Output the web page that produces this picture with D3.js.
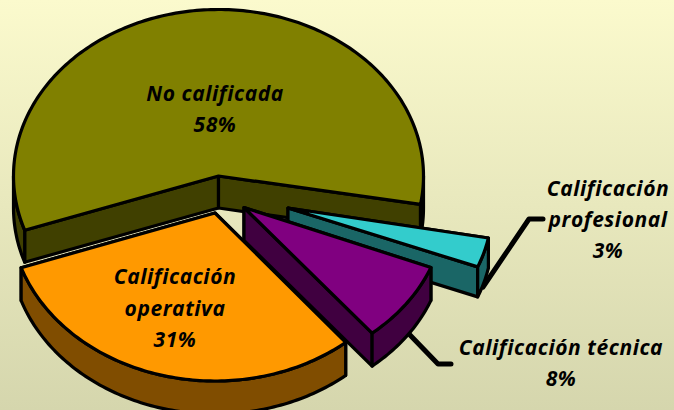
<!DOCTYPE html>
<html><head><meta charset="utf-8">
<script src="https://cdn.jsdelivr.net/npm/d3@7"></script>
<style>html,body{margin:0;padding:0;width:674px;height:410px;overflow:hidden}svg{display:block}
text{font-family:"Open Sans",sans-serif;font-weight:700;font-style:italic;font-size:21px;letter-spacing:0.55px;fill:#000;text-anchor:middle}</style>
</head><body><div id="c"></div>
<script>
const categories = ["No calificada","Calificación profesional","Calificación técnica","Calificación operativa"];
const values = [58,3,8,31];
const topColors = ["#808000","#33CCCC","#800080","#FF9900"];
const sideColors = ["#404000","#1A6666","#400040","#804D00"];
const W=674,H=410;
const svg=d3.select("#c").append("svg").attr("width",W).attr("height",H);
const g=svg.append("defs").append("linearGradient").attr("id","bg").attr("x1",0).attr("y1",0).attr("x2",0).attr("y2",1);
g.append("stop").attr("offset",0).attr("stop-color","#FBFACD");
g.append("stop").attr("offset",1).attr("stop-color","#D5D6AD");
svg.append("rect").attr("width",W).attr("height",H).attr("fill","url(#bg)");

const rad=Math.PI/180;
const pie=d3.pie().sort(null).value(d=>d).startAngle(251*rad).endAngle(611*rad);
const arcs=pie(values);
// projection layout per slice
const layout=[
 {cx:218.5,cy:176,rx:205,ry:166.5,d:32,n0:0,n1:0},
 {cx:288,cy:208,rx:204,ry:160,d:30,n0:1,n1:1},
 {cx:244,cy:207.5,rx:201,ry:163,d:33,n0:1,n1:1},
 {cx:215,cy:213,rx:205,ry:168,d:33,n0:1,n1:0}];
const stroke=a=>a.attr("stroke","#000").attr("stroke-width",3.2).attr("stroke-linejoin","round");
const line=d3.line();
function pt(l,a,dz=0){return [l.cx+l.rx*Math.sin(a), l.cy-l.ry*Math.cos(a)+dz];}
function rim(l,a0,a1,dz=0){const n=Math.max(2,Math.ceil(Math.abs(a1-a0)/(1*rad)));return d3.range(n+1).map(i=>pt(l,a0+(a1-a0)*i/n,dz));}
function poly(pts,fill){stroke(svg.append("path").attr("d",line(pts)+"Z").attr("fill",fill));}

// leader lines
const leader=(pts)=>svg.append("path").attr("d",line(pts)).attr("fill","none").attr("stroke","#000").attr("stroke-width",5).attr("stroke-linejoin","round").attr("stroke-linecap","round");
leader([[483,287],[529,219],[543,219]]);
leader([[410,335],[438,364],[451,364]]);

function slice(i){
  const l=layout[i],A=arcs[i],c=[l.cx,l.cy],cb=[l.cx,l.cy+l.d];
  const a0=A.startAngle+l.n0*rad,a1=A.endAngle+l.n1*rad;
  const p0=pt(l,a0),p1=pt(l,a1);
  // outer wall: the part of the rim that faces the viewer
  const segs=[];
  for(let k=0;k<3;k++){const s=(90+360*k)*rad,e=(270+360*k)*rad;const x=Math.max(a0,s),y=Math.min(a1,e);if(y>x)segs.push([x,y]);}
  [p0,p1].forEach(p=>poly([c,p,[p[0],p[1]+l.d],cb],sideColors[i]));
  segs.forEach(([x,y])=>poly(rim(l,x,y).concat(rim(l,y,x,l.d)),sideColors[i]));
  poly([c].concat(rim(l,a0,a1)),topColors[i]);
}
[0,1,3,2].forEach(slice);

const labels=[
 {i:0,x:215,lines:["No calificada","58%"],y:[101,132]},
 {i:1,x:608,lines:["Calificación","profesional","3%"],y:[196,227,258]},
 {i:2,x:561,lines:["Calificación técnica","8%"],y:[355,386]},
 {i:3,x:175,lines:["Calificación","operativa","31%"],y:[284,316,347]}];
labels.forEach(L=>L.lines.forEach((t,k)=>svg.append("text").attr("x",L.x).attr("y",L.y[k]).text(t)));
</script></body></html>
